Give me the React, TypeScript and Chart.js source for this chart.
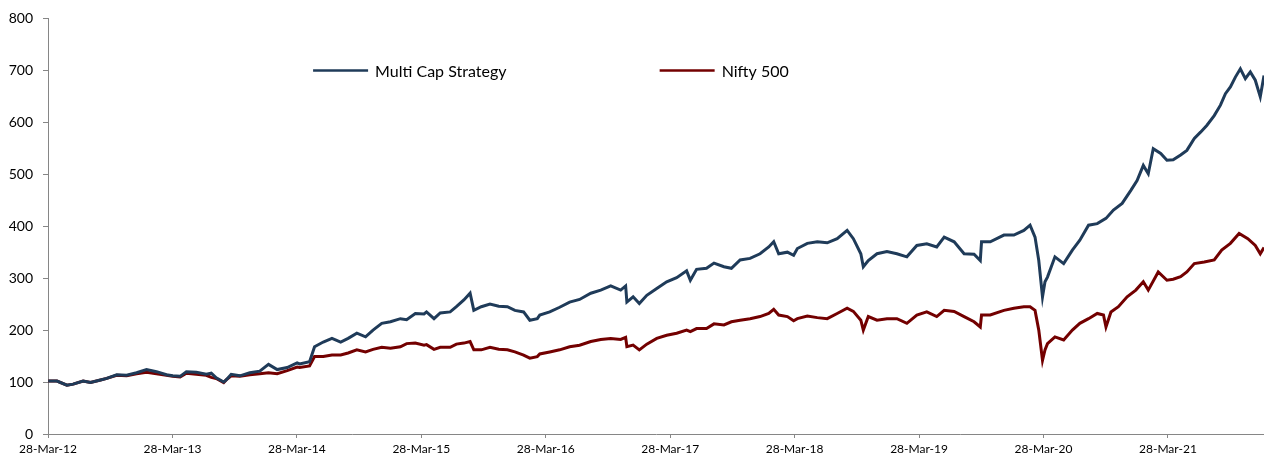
import React, { useEffect, useRef } from "react";
import { Chart, registerables } from "chart.js";

Chart.register(...registerables);

// Dates are decimal years (28-Mar-12 = 2012.238)
const strategyDates = [
  2012.24, 2012.31, 2012.39, 2012.44, 2012.52, 2012.58, 2012.66, 2012.71, 2012.79, 2012.87, 2012.95,
  2013.03, 2013.11, 2013.19, 2013.24, 2013.30, 2013.35, 2013.43, 2013.51, 2013.55, 2013.59, 2013.65,
  2013.67, 2013.71, 2013.78, 2013.86, 2013.94, 2014.01, 2014.08, 2014.16, 2014.24, 2014.26, 2014.34,
  2014.38, 2014.45, 2014.52, 2014.59, 2014.65, 2014.72, 2014.79, 2014.85, 2014.92, 2014.99, 2015.07,
  2015.12, 2015.19, 2015.26, 2015.28, 2015.34, 2015.39, 2015.47, 2015.52, 2015.58, 2015.63, 2015.66,
  2015.72, 2015.79, 2015.86, 2015.93, 2015.99, 2016.06, 2016.11, 2016.17, 2016.19, 2016.27, 2016.35,
  2016.43, 2016.51, 2016.60, 2016.68, 2016.76, 2016.84, 2016.88, 2016.89, 2016.94, 2016.99, 2017.05,
  2017.13, 2017.21, 2017.29, 2017.37, 2017.40, 2017.45, 2017.53, 2017.59, 2017.67, 2017.73, 2017.80,
  2017.88, 2017.96, 2018.03, 2018.07, 2018.11, 2018.18, 2018.23, 2018.26, 2018.34, 2018.42, 2018.50,
  2018.58, 2018.66, 2018.71, 2018.77, 2018.79, 2018.83, 2018.90, 2018.98, 2019.06, 2019.14, 2019.22,
  2019.30, 2019.38, 2019.44, 2019.52, 2019.60, 2019.68, 2019.73, 2019.74, 2019.81, 2019.92, 2020.00,
  2020.08, 2020.13, 2020.17, 2020.20, 2020.23, 2020.25, 2020.27, 2020.33, 2020.40, 2020.47, 2020.53,
  2020.60, 2020.67, 2020.74, 2020.80, 2020.87, 2020.94, 2020.99, 2021.04, 2021.08, 2021.12, 2021.18,
  2021.23, 2021.28, 2021.34, 2021.39, 2021.45, 2021.50, 2021.55, 2021.61, 2021.66, 2021.70, 2021.74,
  2021.78, 2021.82, 2021.86, 2021.90, 2021.94, 2021.98, 2022.01,
];
const strategyValues = [
  102, 102, 94, 96, 102, 99, 104, 107, 114, 113, 118,
  124, 120, 114, 112, 111, 120, 119, 115, 117, 108, 100,
  104, 115, 112, 118, 121, 134, 124, 128, 137, 135, 139,
  168, 177, 184, 177, 184, 194, 187, 200, 213, 216, 222,
  220, 232, 231, 235, 222, 233, 235, 245, 258, 271, 238,
  245, 250, 246, 245, 238, 235, 219, 222, 229, 235, 244,
  254, 259, 271, 277, 285, 277, 285, 254, 264, 251, 267,
  280, 293, 301, 314, 296, 317, 319, 329, 322, 319, 335,
  338, 347, 360, 370, 347, 350, 344, 357, 367, 370, 368,
  376, 392, 376, 347, 322, 334, 347, 351, 347, 341, 363,
  366, 360, 379, 370, 347, 346, 334, 370, 370, 383, 383,
  392, 402, 379, 334, 264, 293, 302, 341, 328, 354, 373,
  402, 405, 415, 431, 444, 469, 488, 517, 501, 549, 540,
  527, 528, 537, 546, 569, 581, 594, 613, 633, 655, 668,
  687, 703, 684, 697, 681, 649, 690,
];

const niftyDates = [
  2012.24, 2012.31, 2012.39, 2012.44, 2012.52, 2012.58, 2012.66, 2012.71, 2012.79, 2012.87, 2012.95,
  2013.03, 2013.11, 2013.19, 2013.24, 2013.30, 2013.35, 2013.43, 2013.51, 2013.55, 2013.59, 2013.65,
  2013.67, 2013.71, 2013.78, 2013.86, 2013.94, 2014.01, 2014.08, 2014.16, 2014.24, 2014.26, 2014.34,
  2014.38, 2014.45, 2014.52, 2014.59, 2014.65, 2014.72, 2014.79, 2014.85, 2014.92, 2014.99, 2015.07,
  2015.12, 2015.19, 2015.26, 2015.28, 2015.34, 2015.39, 2015.47, 2015.52, 2015.58, 2015.63, 2015.66,
  2015.72, 2015.79, 2015.86, 2015.93, 2015.99, 2016.06, 2016.11, 2016.17, 2016.19, 2016.27, 2016.35,
  2016.43, 2016.51, 2016.60, 2016.68, 2016.76, 2016.84, 2016.88, 2016.89, 2016.94, 2016.99, 2017.05,
  2017.13, 2017.21, 2017.29, 2017.37, 2017.40, 2017.45, 2017.53, 2017.59, 2017.67, 2017.73, 2017.80,
  2017.88, 2017.96, 2018.03, 2018.07, 2018.11, 2018.18, 2018.23, 2018.26, 2018.34, 2018.42, 2018.50,
  2018.58, 2018.66, 2018.71, 2018.77, 2018.79, 2018.83, 2018.90, 2018.98, 2019.06, 2019.14, 2019.22,
  2019.30, 2019.38, 2019.44, 2019.52, 2019.60, 2019.68, 2019.73, 2019.74, 2019.81, 2019.92, 2020.00,
  2020.08, 2020.13, 2020.17, 2020.20, 2020.23, 2020.25, 2020.27, 2020.33, 2020.40, 2020.47, 2020.53,
  2020.60, 2020.67, 2020.72, 2020.74, 2020.78, 2020.84, 2020.91, 2020.98, 2021.04, 2021.08, 2021.16,
  2021.23, 2021.28, 2021.34, 2021.39, 2021.45, 2021.53, 2021.61, 2021.67, 2021.74, 2021.81, 2021.88,
  2021.94, 2021.98, 2022.01,
];
const niftyValues = [
  102, 102, 94, 96, 102, 99, 104, 107, 113, 112, 116,
  119, 116, 113, 111, 110, 117, 115, 113, 109, 107, 99,
  104, 112, 111, 114, 116, 118, 116, 122, 129, 128, 131,
  149, 149, 152, 152, 156, 162, 158, 163, 167, 165, 168,
  174, 175, 171, 172, 163, 167, 167, 173, 175, 178, 162,
  162, 167, 163, 162, 158, 152, 146, 149, 154, 158, 162,
  168, 171, 178, 182, 184, 182, 186, 168, 171, 162, 173,
  184, 190, 194, 200, 197, 203, 203, 212, 210, 216, 219,
  222, 226, 232, 240, 229, 226, 218, 222, 227, 224, 222,
  232, 242, 236, 219, 200, 226, 219, 222, 222, 213, 229,
  235, 226, 238, 236, 226, 216, 206, 229, 229, 238, 242,
  245, 245, 238, 200, 142, 162, 174, 187, 181, 200, 213,
  222, 232, 229, 206, 235, 245, 264, 277, 293, 277, 312,
  296, 298, 303, 312, 328, 331, 335, 354, 367, 386, 376,
  363, 347, 359,
];

const seriesLabels = ["Multi Cap Strategy", "Nifty 500"];
const seriesColors = ["#1f3b59", "#730000"];
const tickLabels = [
  "28-Mar-12", "28-Mar-13", "28-Mar-14", "28-Mar-15", "28-Mar-16",
  "28-Mar-17", "28-Mar-18", "28-Mar-19", "28-Mar-20", "28-Mar-21",
];
const firstTick = 2012.238;
const lastDate = 2022.01;
const yTicks = { min: 0, max: 800, step: 100 };

const FONT = "Lato, 'Open Sans', sans-serif";
const AXIS = "#868686";

const inlineLegend = {
  id: "inlineLegend",
  afterDraw(chart: any) {
    const { ctx, chartArea } = chart;
    const fractions = [0.218, 0.503];
    const y = chartArea.top + 52;
    chart.data.datasets.forEach((ds: any, i: number) => {
      const x = chartArea.left + fractions[i] * chartArea.width;
      ctx.save();
      ctx.strokeStyle = ds.borderColor;
      ctx.lineWidth = 2.5;
      ctx.beginPath();
      ctx.moveTo(x, y);
      ctx.lineTo(x + 55, y);
      ctx.stroke();
      ctx.fillStyle = "#000";
      ctx.font = `16px ${FONT}`;
      ctx.textBaseline = "middle";
      ctx.textAlign = "left";
      ctx.fillText(ds.label, x + 62, y + 1);
      ctx.restore();
    });
  },
};

export default function App() {
  const ref = useRef<HTMLCanvasElement | null>(null);

  useEffect(() => {
    document.body.style.margin = "0";
    const canvas = ref.current;
    if (!canvas) return;
    const chart = new Chart(canvas, {
      type: "line",
      data: {
        datasets: [
          {
            label: seriesLabels[0],
            data: strategyDates.map((d, i) => ({ x: d, y: strategyValues[i] })),
            borderColor: seriesColors[0],
            backgroundColor: seriesColors[0],
            borderWidth: 3,
            pointRadius: 0,
            tension: 0,
          },
          {
            label: seriesLabels[1],
            data: niftyDates.map((d, i) => ({ x: d, y: niftyValues[i] })),
            borderColor: seriesColors[1],
            backgroundColor: seriesColors[1],
            borderWidth: 3,
            pointRadius: 0,
            tension: 0,
          },
        ],
      },
      options: {
        animation: false,
        responsive: false,
        maintainAspectRatio: false,
        devicePixelRatio: 1,
        layout: { padding: { top: 18, right: 0, left: 0, bottom: 0 } },
        plugins: {
          legend: { display: false },
          tooltip: { enabled: false },
        },
        scales: {
          x: {
            type: "linear",
            min: firstTick,
            max: lastDate,
            afterBuildTicks: (scale: any) => {
              scale.ticks = tickLabels.map((_, i) => ({ value: firstTick + i }));
            },
            afterFit: (scale: any) => {
              scale.height = 23;
            },
            grid: {
              display: true,
              drawOnChartArea: false,
              drawTicks: true,
              tickLength: 4,
              color: AXIS,
            },
            border: { display: true, color: AXIS, width: 1 },
            ticks: {
              autoSkip: false,
              maxRotation: 0,
              padding: 4,
              color: "#000",
              font: { family: FONT, size: 12 },
              callback: (_v: any, i: number) => tickLabels[i],
            },
          },
          y: {
            type: "linear",
            min: yTicks.min,
            max: yTicks.max,
            afterFit: (scale: any) => {
              scale.width = 48;
            },
            grid: {
              display: true,
              drawOnChartArea: false,
              drawTicks: true,
              tickLength: 5,
              color: AXIS,
            },
            border: { display: true, color: AXIS, width: 1 },
            ticks: {
              stepSize: yTicks.step,
              padding: 10,
              color: "#000",
              font: { family: FONT, size: 14 },
            },
          },
        },
      },
      plugins: [inlineLegend],
    });
    return () => chart.destroy();
  }, []);

  return (
    <div style={{ width: 1264, height: 457 }}>
      <canvas ref={ref} width={1264} height={457} style={{ display: "block" }} />
    </div>
  );
}
